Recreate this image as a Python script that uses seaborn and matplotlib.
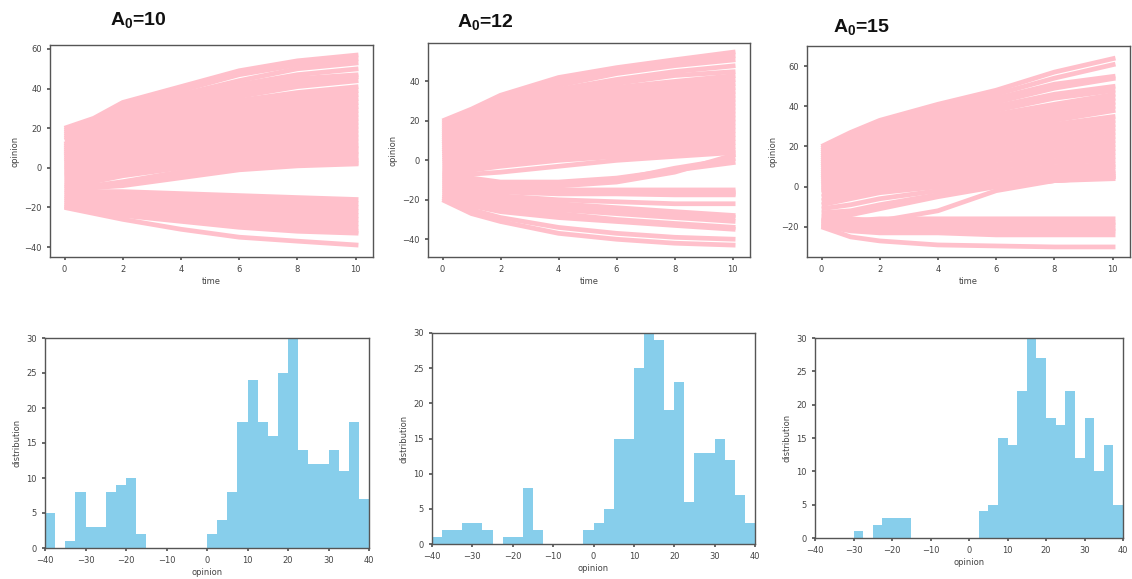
import numpy as np
import pandas as pd
import matplotlib
matplotlib.use("Agg")
import matplotlib.pyplot as plt
import seaborn as sns

# ---------------- data ----------------
time_points = [0, 1, 2, 4, 6, 8, 10.1]

traj_a10 = [
    [20, 25, 33, 41, 49, 54, 57], [19, 24, 31, 39, 47, 52, 55], [18, 23, 29, 37, 44, 50, 53],
    [17, 22, 27, 35, 42, 47, 50], [16, 21, 26, 33, 40, 45, 47], [15, 20, 25, 32, 38, 43, 46],
    [14, 19, 23, 30, 36, 41, 44], [12, 18, 22, 28, 34, 38, 41], [11, 17, 21, 27, 32, 36, 39],
    [10, 16, 20, 25, 30, 34, 37], [9, 15, 19, 24, 28, 32, 35], [8, 14, 18, 22, 26, 30, 33],
    [7, 13, 16, 21, 25, 28, 31], [6, 12, 15, 19, 23, 27, 29], [5, 10, 14, 18, 22, 25, 27],
    [4, 9, 13, 17, 20, 23, 25], [3, 8, 11, 15, 18, 21, 23], [2, 6, 10, 14, 17, 19, 21],
    [1, 5, 9, 12, 15, 17, 19], [0, 4, 7, 11, 13, 15, 17], [-1, 3, 6, 9, 12, 14, 15],
    [-2, 1, 4, 8, 10, 12, 13], [-3, 0, 3, 6, 9, 10, 11], [-4, -1, 2, 5, 7, 9, 10],
    [-5, -3, 0, 3, 6, 7, 8], [-6, -5, -2, 2, 4, 6, 7], [-7, -7, -4, 0, 3, 4, 5],
    [-8, -9, -7, -2, 1, 3, 4], [-9, -10, -8, -3, 0, 2, 2.5], [-10, -10, -9, -5, -1, 1, 2],
    [-11, -12, -12, -13, -14, -15, -16], [-12, -13, -14, -15, -16, -17, -18],
    [-13, -14, -15, -17, -18, -19, -20], [-14, -16, -17, -19, -20, -21, -22],
    [-15, -17, -18, -20, -22, -23, -24], [-16, -18, -19, -21, -23, -25, -26],
    [-17, -19, -21, -23, -25, -27, -28], [-18, -20, -22, -25, -27, -29, -30],
    [-19, -21, -23, -26, -29, -31, -32], [-19.5, -22, -24, -27, -30, -32, -33],
    [-20, -23, -26, -31, -35, -37, -39],
]

traj_a12 = [
    [20, 26, 33, 42, 47, 51, 55], [19, 25, 31, 40, 46, 50, 53], [18, 24, 30, 38, 44, 48, 51],
    [17, 23, 28, 36, 41, 45, 48], [16, 22, 27, 34, 39, 43, 45], [15, 21, 26, 32, 37, 40, 43],
    [14, 20, 24, 30, 35, 38, 41], [13, 19, 23, 29, 33, 36, 39], [12, 18, 22, 27, 31, 34, 37],
    [11, 17, 21, 26, 29, 32, 35], [10, 16, 20, 24, 28, 31, 33], [9, 15, 18, 23, 26, 29, 31],
    [8, 14, 17, 21, 24, 27, 29], [7, 12, 16, 20, 23, 25, 27], [6, 11, 14, 18, 21, 23, 25],
    [5, 10, 13, 17, 19, 21, 23], [4, 9, 12, 15, 17, 19, 21], [3, 7, 10, 14, 16, 18, 19],
    [2, 6, 9, 12, 14, 16, 17], [1, 4, 7, 10, 12, 14, 15], [0, 3, 5, 8, 10, 12, 13],
    [-1, 1, 3, 6, 8, 10, 11], [-2, -1, 1, 4, 6, 8, 9], [-3, -3, -1, 2, 4, 6, 7],
    [-4, -5, -3, 0, 2, 4, 5], [-5, -7, -6, -3, 0, 2, 4],
    [-6, -9, -11, -11, -9, -5, -1], [-7, -10, -12, -12, -10, -4, 1], [-8, -11, -12, -13, -11, -6, 3],
    [-9, -12, -14, -15, -15, -15, -15], [-10, -13, -15, -15.5, -16, -16, -16],
    [-11, -14, -15.5, -16, -16.5, -17, -17], [-12, -15, -16, -17, -17, -17.5, -17.5],
    [-13, -16, -18, -20, -21, -22, -22], [-14, -17, -19, -22, -24, -26, -28],
    [-15, -18, -20, -23, -25, -27, -29], [-16, -19, -22, -25, -27, -29, -31],
    [-17, -21, -24, -27, -30, -32, -34], [-18, -23, -26, -29, -31, -33, -35],
    [-19, -25, -29, -34, -37, -39, -40], [-20, -27, -31, -37, -40, -42, -43],
]

traj_a15 = [
    [20, 27, 33, 41, 48, 57, 64], [19, 26, 31, 39, 46, 54, 61], [18, 25, 30, 37, 44, 51, 55],
    [17, 24, 29, 36, 42, 49, 54], [16, 23, 28, 34, 40, 46, 50], [15, 22, 27, 33, 38, 44, 48],
    [14, 21, 25, 31, 36, 41, 46], [13, 20, 24, 30, 34, 39, 44], [12, 19, 23, 28, 32, 37, 42],
    [11, 18, 22, 27, 31, 35, 40], [10, 17, 21, 25, 29, 33, 38], [9, 15, 19, 24, 27, 31, 35],
    [8, 14, 18, 22, 26, 29, 33], [7, 13, 17, 21, 24, 27, 31], [6, 12, 15, 19, 22, 26, 29],
    [5, 11, 14, 18, 21, 24, 27], [4, 10, 13, 16, 19, 22, 25], [3, 8, 11, 15, 17, 20, 23],
    [2, 7, 10, 13, 16, 18, 21], [1, 6, 9, 12, 14, 16, 19], [0, 4, 7, 10, 13, 15, 17],
    [-1, 3, 6, 9, 11, 13, 15], [-2, 2, 4, 7, 10, 12, 13], [-3, 0, 3, 6, 8, 10, 11],
    [-5, -2, 1, 4, 7, 8, 10], [-7, -4, -1, 2, 5, 7, 8], [-9, -6, -3, 0, 3, 5, 7],
    [-11, -9, -6, -2, 2, 4, 6], [-13, -12, -9, -4, 1, 3, 5], [-15, -14, -11, -5, 0, 3, 4],
    [-17, -16, -17, -12, -2, 3, 5],
    [-16, -17, -16, -16, -16, -16, -16], [-17, -18, -17.5, -17.5, -18, -18, -18],
    [-18, -19, -19, -19, -19, -19, -19], [-18.5, -20, -20, -20.5, -21, -21, -21],
    [-19, -21, -21, -22, -22, -22, -22], [-19.5, -22, -23, -23, -24, -24, -24],
    [-20, -25, -27, -29, -29.5, -30, -30],
]

bin_edges = list(np.arange(-40, 40.01, 2.5))
counts_a10 = [5, 0, 1, 8, 3, 3, 8, 9, 10, 2, 0, 0, 0, 0, 0, 0,
              2, 4, 8, 18, 24, 18, 16, 25, 30, 14, 12, 12, 14, 11, 18, 7]
counts_a12 = [1, 2, 2, 3, 3, 2, 0, 1, 1, 8, 2, 0, 0, 0, 0, 2,
              3, 5, 15, 15, 25, 30, 29, 19, 23, 6, 13, 13, 15, 12, 7, 3]
counts_a15 = [0, 0, 0, 0, 1, 0, 2, 3, 3, 3, 0, 0, 0, 0, 0, 0,
              0, 4, 5, 15, 14, 22, 30, 27, 18, 17, 22, 12, 18, 10, 14, 5]

titles = ["10", "12", "15"]

# ---------------- style ----------------
sns.set_theme(style="ticks")
plt.rcParams["font.family"] = ["DejaVu Sans"]
plt.rcParams["mathtext.fontset"] = "custom"
plt.rcParams["mathtext.rm"] = "Liberation Sans:bold"
gray = "#555555"
plt.rcParams.update({
    "axes.edgecolor": gray, "axes.linewidth": 1.0,
    "xtick.color": gray, "ytick.color": gray,
    "xtick.labelcolor": "#444444", "ytick.labelcolor": "#444444",
    "xtick.labelsize": 6, "ytick.labelsize": 6,
    "xtick.major.size": 2.5, "ytick.major.size": 2.5,
    "axes.labelsize": 6, "axes.labelcolor": "#444444",
})

W, H = 1132, 579
fig = plt.figure(figsize=(W / 100, H / 100), dpi=100)

def box(x0, y0, x1, y1):
    return [x0 / W, 1 - y1 / H, (x1 - x0) / W, (y1 - y0) / H]

top_boxes = [box(50, 45, 373, 257), box(428, 43, 750, 257), box(807, 46, 1130, 257)]
bot_boxes = [box(45, 338, 369, 548), box(432, 333, 755, 544), box(815, 338, 1123, 538)]
top_ylims = [(-45, 62), (-49, 59.5), (-35, 70)]
title_pos = [(110, 21), (457, 23), (833, 28)]

all_traj = [traj_a10, traj_a12, traj_a15]
all_counts = [counts_a10, counts_a12, counts_a15]
centers = [(bin_edges[i] + bin_edges[i + 1]) / 2 for i in range(len(bin_edges) - 1)]

for k in range(3):
    ax = fig.add_axes(top_boxes[k])
    rows = []
    for j, tr in enumerate(all_traj[k]):
        for t, v in zip(time_points, tr):
            rows.append({"traj": j, "time": t, "opinion": v})
    df = pd.DataFrame(rows)
    sns.lineplot(data=df, x="time", y="opinion", units="traj", estimator=None,
                 color="pink", linewidth=3.4, ax=ax, sort=True,
                 solid_capstyle="butt", solid_joinstyle="round")
    ax.set_xlim(-0.5, 10.6)
    ax.set_ylim(*top_ylims[k])
    ax.set_xticks([0, 2, 4, 6, 8, 10])
    ax.set_xlabel("time", labelpad=2)
    ax.set_ylabel("opinion", labelpad=3)

    bx = fig.add_axes(bot_boxes[k])
    hdf = pd.DataFrame({"opinion": centers, "n": all_counts[k]})
    sns.histplot(data=hdf, x="opinion", weights="n", bins=bin_edges, element="step",
                 fill=True, color="skyblue", alpha=1.0, linewidth=0, ax=bx)
    bx.set_xlim(-40, 40)
    bx.set_ylim(0, 30)
    bx.set_xticks(range(-40, 41, 10))
    bx.set_yticks(range(0, 31, 5))
    bx.set_xlabel("opinion", labelpad=2)
    bx.set_ylabel("distribution", labelpad=3)

    px, py = title_pos[k]
    fig.text(px / W, 1 - py / H, r"A$_\mathregular{0}$=" + titles[k],
             fontsize=14, family="Liberation Sans", fontweight="bold",
             ha="left", va="center", color="#111111")

fig.savefig("out.png", dpi=100, facecolor="white")
